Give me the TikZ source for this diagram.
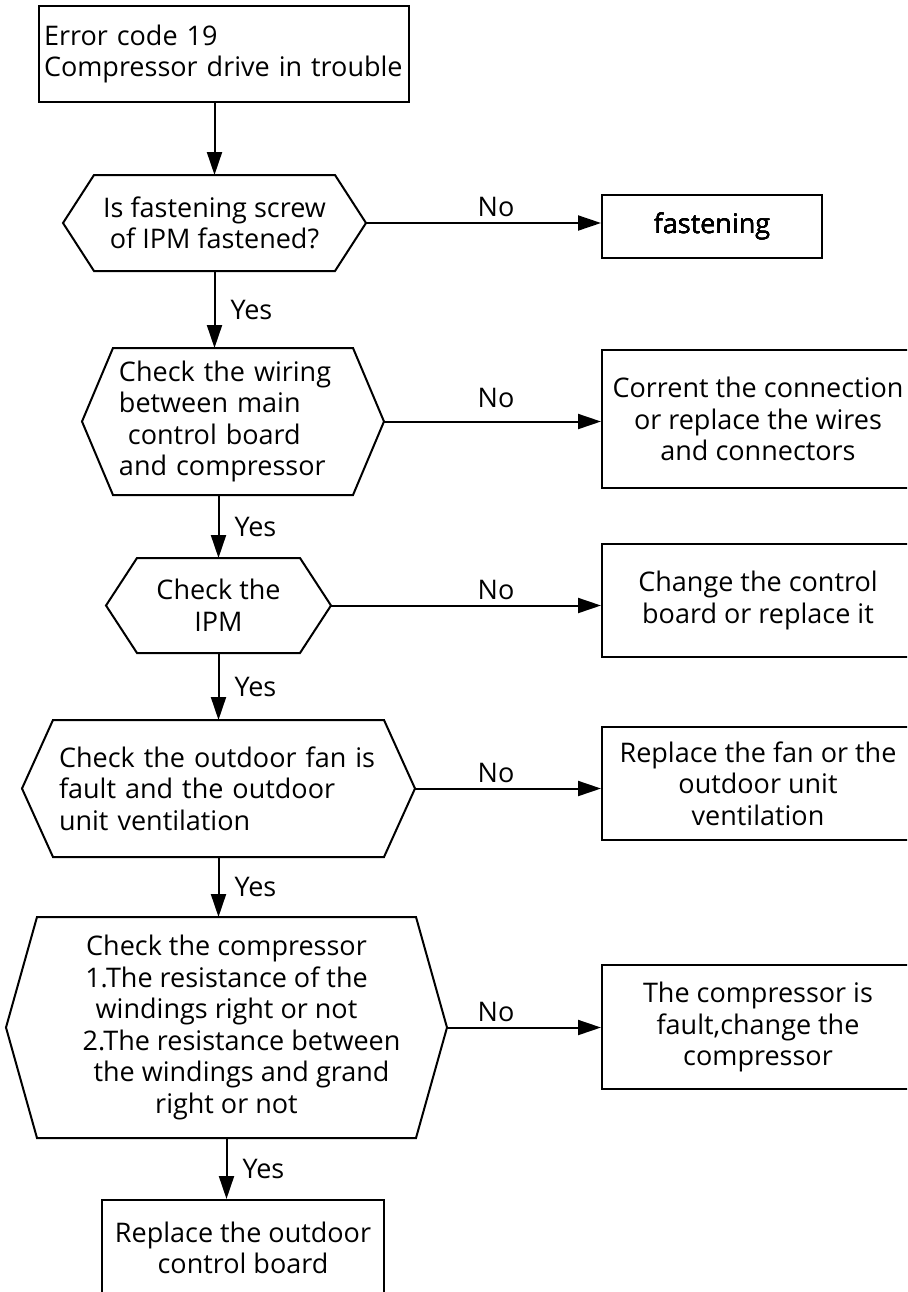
\documentclass[tikz,border=0pt]{standalone}
\usepackage{fontspec}
\setmainfont{Open Sans}
\usetikzlibrary{arrows.meta}
\def\tipw{15.5pt}
\newcommand{\drawhex}[1]{%
  \draw ([xshift=-\tipw]#1.west) -- (#1.north west) -- (#1.north east) -- ([xshift=\tipw]#1.east) -- (#1.south east) -- (#1.south west) -- cycle;
  \coordinate (#1r) at ([xshift=\tipw]#1.east);}
\begin{document}
\begin{tikzpicture}[x=0.5pt,y=-0.5pt,line width=1pt,>={Triangle[length=11.5pt,width=7.5pt]},
  every node/.style={font=\fontsize{13.5}{15.8}\selectfont,inner sep=2.5pt},
  box/.style={draw,align=center},
  hex/.style={align=center},
  yes/.style={right,midway,xshift=5pt},
  no/.style={above,pos=1,xshift=-52.5pt}]
\useasboundingbox (0,0) rectangle (907,1292);
\fill[white] (0,0) rectangle (907,1292);
\clip (0,0) rectangle (907,1292);
% left column
\node[box,align=left,text width=180pt,minimum height=48pt] (start) at (224,54) {Error code 19\\Compressor drive in trouble};
\node[hex,minimum width=119.5pt,minimum height=47pt] (q1) at (214.5,223) {Is fastening screw\\of IPM fastened?};
\node[hex,align=left,text width=114pt,minimum height=72.5pt] (q2) at (233,421.5) {Check the wiring\\between main\\\hspace*{4.5pt}control board\\and compressor};
\node[hex,minimum width=80.5pt,minimum height=46.5pt] (q3) at (218.5,605.5) {Check the\\IPM};
\node[hex,align=left,text width=159.5pt,minimum height=67.5pt] (q4) at (218.5,788.5) {Check the outdoor fan is\\fault and the outdoor\\unit ventilation};
\node[hex,minimum width=188.5pt,minimum height=109.5pt] (q5) at (226.5,1027.5) {Check the compressor\\1.The resistance of the\\windings right or not\\\hspace*{15pt}2.The resistance between\\\hspace*{15pt}the windings and grand\\right or not};
\node[box,minimum width=141pt,minimum height=48pt] (fin) at (243,1248) {Replace the outdoor\\control board};
\foreach \h in {q1,q2,q3,q4,q5} \drawhex{\h}
% right column
\node[box,minimum width=110pt,minimum height=31.5pt] (f1) at (712,226.5) {fastening};
\node[box,minimum width=156pt,minimum height=69pt] (f2) at (758,419) {Corrent the connection\\or replace the wires\\and connectors};
\node[box,minimum width=156pt,minimum height=56.5pt] (f3) at (758,600.5) {Change the control\\board or replace it};
\node[box,minimum width=156pt,minimum height=56.5pt] (f4) at (758,783.5) {Replace the fan or the\\outdoor unit\\ventilation};
\node[box,minimum width=156pt,minimum height=62pt] (f5) at (758,1027) {The compressor is\\fault,change the\\compressor};
% yes arrows
\draw[->] (q1.north |- start.south) -- (q1.north);
\draw[->] (q1.south) -- (q1.south |- q2.north) node[yes] {Yes};
\draw[->] (q3.north |- q2.south) -- (q3.north) node[yes] {Yes};
\draw[->] (q3.south) -- (q3.south |- q4.north) node[yes] {Yes};
\draw[->] (q4.south) -- (q4.south |- q5.north) node[yes] {Yes};
\draw[->] (q5.south) -- (q5.south |- fin.north) node[yes] {Yes};
% no arrows
\draw[->] (q1r) -- (q1r -| f1.west) node[no] {No};
\draw[->] (q2r) -- (q2r -| f2.west) node[no,yshift=4pt] {No};
\draw[->] (q3r) -- (q3r -| f3.west) node[no] {No};
\draw[->] (q4r) -- (q4r -| f4.west) node[no] {No};
\draw[->] (q5r) -- (q5r -| f5.west) node[no] {No};
\end{tikzpicture}
\end{document}
